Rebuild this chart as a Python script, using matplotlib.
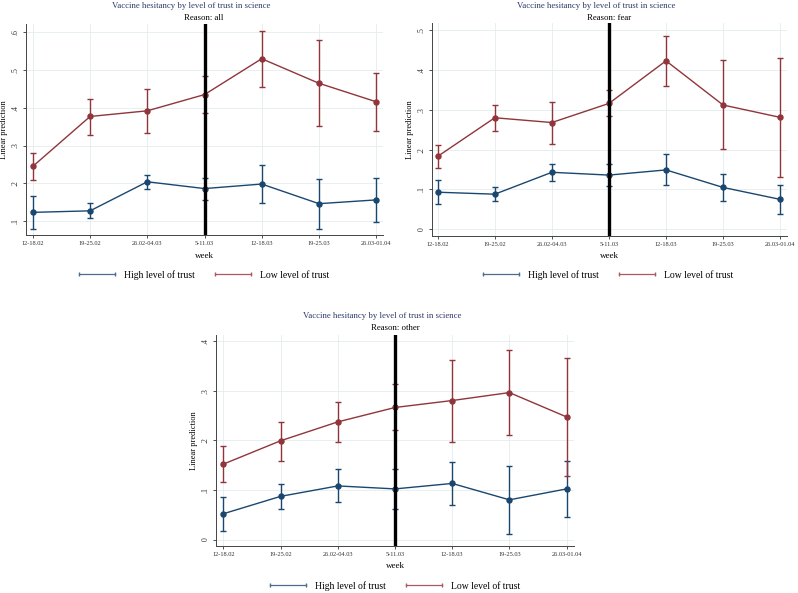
"""
Vaccine hesitancy by level of trust in science - three panels
"""
import matplotlib
matplotlib.use('Agg')
import matplotlib.pyplot as plt
from matplotlib.lines import Line2D
from matplotlib.ticker import FuncFormatter
import numpy as np

plt.rcParams['font.family'] = ['Liberation Serif', 'DejaVu Serif']

weeks = ['12-18.02', '19-25.02', '26.02-04.03', '5-11.03', '12-18.03', '19-25.03', '26.03-01.04']
event_week = 3  # index of 5-11.03

# Reason: all
all_high = [0.123, 0.127, 0.204, 0.186, 0.198, 0.146, 0.156]
all_high_lo = [0.078, 0.107, 0.184, 0.156, 0.149, 0.080, 0.097]
all_high_hi = [0.166, 0.147, 0.223, 0.215, 0.248, 0.212, 0.215]
all_low = [0.245, 0.377, 0.392, 0.435, 0.530, 0.465, 0.416]
all_low_lo = [0.209, 0.327, 0.334, 0.385, 0.456, 0.353, 0.339]
all_low_hi = [0.279, 0.424, 0.449, 0.484, 0.604, 0.579, 0.493]

# Reason: fear
fear_high = [0.093, 0.088, 0.143, 0.136, 0.149, 0.105, 0.075]
fear_high_lo = [0.064, 0.070, 0.120, 0.109, 0.111, 0.071, 0.039]
fear_high_hi = [0.123, 0.105, 0.165, 0.163, 0.188, 0.138, 0.111]
fear_low = [0.183, 0.280, 0.268, 0.316, 0.423, 0.312, 0.281]
fear_low_lo = [0.154, 0.247, 0.215, 0.284, 0.361, 0.201, 0.131]
fear_low_hi = [0.212, 0.312, 0.320, 0.349, 0.485, 0.424, 0.430]

# Reason: other
other_high = [0.052, 0.087, 0.108, 0.102, 0.113, 0.080, 0.102]
other_high_lo = [0.017, 0.061, 0.075, 0.062, 0.069, 0.012, 0.046]
other_high_hi = [0.086, 0.112, 0.143, 0.142, 0.157, 0.148, 0.159]
other_low = [0.152, 0.199, 0.237, 0.266, 0.280, 0.296, 0.247]
other_low_lo = [0.116, 0.159, 0.196, 0.220, 0.197, 0.211, 0.128]
other_low_hi = [0.188, 0.237, 0.278, 0.313, 0.362, 0.382, 0.366]

BLUE = '#1a476f'
RED = '#90353b'
GRID = '#e4ecef'
W, H = 798, 593


def fx(px):
    return px / W


def fy(py):
    return 1 - py / H


def ytick_fmt(v, pos):
    if abs(v) < 1e-9:
        return '0'
    return ('%.1f' % v).lstrip('0')


def draw_panel(fig, rect, reason, high, high_lo, high_hi, low, low_lo, low_hi,
               yticks, ylim, xlim, txt):
    l, t, r, b = rect
    ax = fig.add_axes([fx(l), fy(b), fx(r - l), (b - t) / H])
    x = np.arange(len(weeks))

    for vals, lo, hi, col in [(high, high_lo, high_hi, BLUE), (low, low_lo, low_hi, RED)]:
        vals, lo, hi = np.array(vals), np.array(lo), np.array(hi)
        ax.errorbar(x, vals, yerr=[vals - lo, hi - vals], color=col, lw=1.0,
                    elinewidth=1.0, capsize=2.2, capthick=1.0,
                    marker='o', markersize=3.6, zorder=3)

    ax.axvline(event_week, color='black', lw=2.4, zorder=4)

    ax.set_xlim(*xlim)
    ax.set_ylim(*ylim)
    ax.set_xticks(x)
    ax.set_xticklabels(weeks, fontsize=4.6)
    ax.set_yticks(yticks)
    ax.yaxis.set_major_formatter(FuncFormatter(ytick_fmt))
    for lab in ax.get_yticklabels():
        lab.set_rotation(90)
        lab.set_va('center')
        lab.set_fontsize(5.6)
    ax.tick_params(length=2.5, width=0.6, colors='#333333', pad=2)
    ax.grid(True, color=GRID, lw=0.6, zorder=0)
    ax.set_axisbelow(True)
    for s in ['top', 'right']:
        ax.spines[s].set_visible(False)
    for s in ['left', 'bottom']:
        ax.spines[s].set_color('#444444')
        ax.spines[s].set_linewidth(0.7)
    ax.set_ylabel('Linear prediction', fontsize=6.0, labelpad=2.5)

    # titles and axis title
    fig.text(fx(txt['title'][0]), fy(txt['title'][1]),
             'Vaccine hesitancy by level of trust in science',
             ha='center', va='center', fontsize=6.3, color='#2b3a67')
    fig.text(fx(txt['reason'][0]), fy(txt['reason'][1]), 'Reason: ' + reason,
             ha='center', va='center', fontsize=6.3, color='black')
    fig.text(fx(txt['week'][0]), fy(txt['week'][1]), 'week',
             ha='center', va='center', fontsize=6.5)

    # legend
    lx, ly = txt['legend']
    handles = [Line2D([0], [0], color='#4d6d8f', lw=0.9, marker='|', markersize=3.5),
               Line2D([0], [0], color='#a85a60', lw=0.9, marker='|', markersize=3.5)]
    fig.legend(handles, ['High level of trust', 'Low level of trust'],
               loc='center', bbox_to_anchor=(fx(lx), fy(ly)), ncol=2,
               numpoints=2, handlelength=4.3, handletextpad=0.7,
               columnspacing=1.8, frameon=False, fontsize=6.9)
    return ax


fig = plt.figure(figsize=(W / 100, H / 100), dpi=100)

draw_panel(fig, (26, 24, 383, 235), 'all',
           all_high, all_high_lo, all_high_hi, all_low, all_low_lo, all_low_hi,
           [0.1, 0.2, 0.3, 0.4, 0.5, 0.6], (0.063, 0.622), (-0.12, 6.12),
           {'title': (191, 6), 'reason': (204, 18), 'week': (204, 256),
            'legend': (203, 275)})

draw_panel(fig, (432, 23, 787, 236), 'fear',
           fear_high, fear_high_lo, fear_high_hi, fear_low, fear_low_lo, fear_low_hi,
           [0.0, 0.1, 0.2, 0.3, 0.4, 0.5], (-0.017, 0.518), (-0.1, 6.12),
           {'title': (596, 6), 'reason': (609, 18), 'week': (609, 256),
            'legend': (607, 275)})

draw_panel(fig, (216, 335, 574, 546), 'other',
           other_high, other_high_lo, other_high_hi, other_low, other_low_lo, other_low_hi,
           [0.0, 0.1, 0.2, 0.3, 0.4], (-0.013, 0.412), (-0.13, 6.13),
           {'title': (382, 316), 'reason': (395, 328), 'week': (395, 566),
            'legend': (394, 586)})

plt.savefig('out.png', dpi=100)
plt.close()
